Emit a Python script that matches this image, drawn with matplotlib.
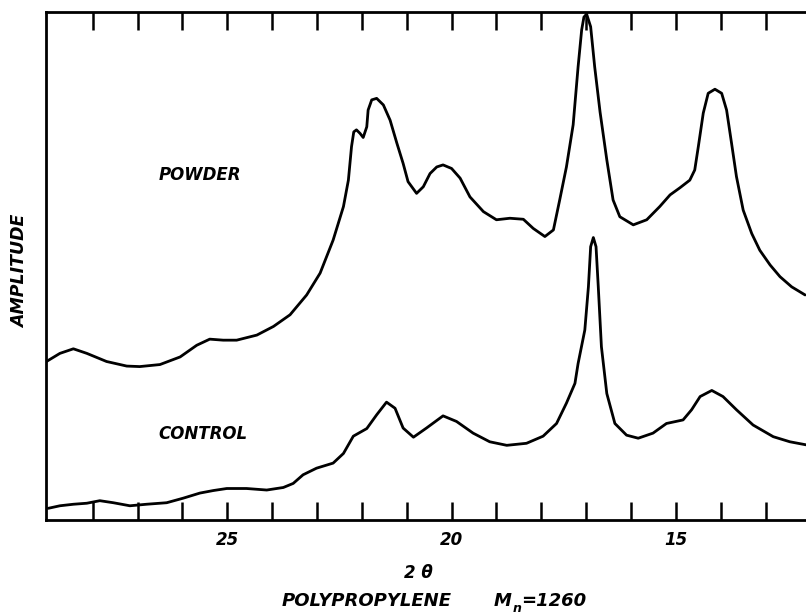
import matplotlib.pyplot as plt

# 2-theta positions (deg) and amplitude (arbitrary units, 0-100)
powder_2theta = [29.03, 28.73, 28.43, 28.13, 27.69, 27.24, 26.95, 26.50, 26.05,
                 25.68, 25.39, 25.09, 24.79, 24.34, 23.97, 23.60, 23.23, 22.93,
                 22.64, 22.41, 22.30, 22.23, 22.18, 22.12, 22.04, 21.97, 21.89,
                 21.86, 21.78, 21.67, 21.52, 21.37, 21.22, 21.08, 20.97, 20.78,
                 20.63, 20.48, 20.33, 20.19, 20.00, 19.81, 19.59, 19.29, 19.00,
                 18.70, 18.40, 18.18, 17.92, 17.73, 17.59, 17.44, 17.29, 17.18,
                 17.10, 17.05, 16.99, 16.90, 16.81, 16.69, 16.54, 16.40, 16.25,
                 15.95, 15.65, 15.36, 15.13, 14.91, 14.69, 14.58, 14.50, 14.39,
                 14.28, 14.13, 13.98, 13.87, 13.76, 13.65, 13.50, 13.31, 13.13,
                 12.90, 12.68, 12.42, 12.12]
powder_amp = [31.2, 32.8, 33.7, 32.8, 31.2, 30.3, 30.2, 30.6, 32.1,
              34.4, 35.6, 35.4, 35.4, 36.4, 38.1, 40.4, 44.3, 48.6,
              55.1, 61.7, 66.9, 73.5, 76.4, 76.8, 76.1, 75.3, 77.4,
              80.7, 82.7, 83.0, 81.7, 78.7, 74.2, 70.2, 66.6, 64.3,
              65.6, 68.2, 69.5, 69.9, 69.2, 67.3, 63.6, 60.7, 59.1,
              59.4, 59.2, 57.4, 55.8, 57.1, 63.0, 69.5, 77.8, 89.2,
              96.5, 99.0, 99.6, 97.1, 89.2, 80.3, 70.9, 63.0, 59.7,
              58.1, 59.1, 61.7, 64.0, 65.4, 66.9, 68.9, 73.5, 80.1,
              84.0, 84.8, 84.0, 80.7, 74.2, 67.6, 61.0, 56.4, 53.1,
              50.2, 47.9, 45.9, 44.3]

control_2theta = [28.99, 28.73, 28.43, 28.13, 27.84, 27.54, 27.17, 26.80, 26.35,
                  25.98, 25.61, 25.31, 25.01, 24.57, 24.12, 23.75, 23.53, 23.31,
                  23.01, 22.64, 22.41, 22.19, 21.89, 21.67, 21.45, 21.26, 21.08,
                  20.85, 20.56, 20.19, 19.89, 19.52, 19.15, 18.77, 18.33, 17.96,
                  17.66, 17.44, 17.25, 17.18, 17.03, 16.95, 16.90, 16.84, 16.78,
                  16.73, 16.66, 16.54, 16.36, 16.10, 15.84, 15.51, 15.21, 14.84,
                  14.65, 14.46, 14.20, 13.95, 13.65, 13.28, 12.83, 12.46, 12.10]
control_amp = [2.3, 2.8, 3.1, 3.3, 3.8, 3.4, 2.8, 3.1, 3.4,
               4.3, 5.3, 5.8, 6.2, 6.2, 5.9, 6.4, 7.2, 8.9,
               10.2, 11.2, 13.1, 16.5, 18.0, 20.7, 23.2, 22.0, 18.1,
               16.3, 18.1, 20.5, 19.4, 17.1, 15.4, 14.7, 15.1, 16.5,
               19.0, 23.0, 26.9, 30.8, 37.4, 45.9, 53.8, 55.6, 53.8,
               45.9, 34.1, 24.9, 19.0, 16.7, 16.1, 17.1, 19.0, 19.7,
               21.7, 24.3, 25.5, 24.3, 21.7, 18.7, 16.4, 15.4, 14.8]

tick_positions = list(range(13, 29))
labelled_ticks = {15: "15", 20: "20", 25: "25"}

fig = plt.figure(figsize=(8.06, 6.16), dpi=100)
ax = fig.add_axes([46 / 806, 96 / 616, 760 / 806, 508 / 616])

ax.plot(powder_2theta, powder_amp, color="black", lw=2.0,
        solid_joinstyle="round", solid_capstyle="round")
ax.plot(control_2theta, control_amp, color="black", lw=2.0,
        solid_joinstyle="round", solid_capstyle="round")

ax.set_xlim(29.04, 12.10)
ax.set_ylim(0, 100)

for side in ["left", "top", "bottom"]:
    ax.spines[side].set_linewidth(2.0)
ax.spines["right"].set_visible(False)

ax.set_yticks([])
ax.set_xticks(tick_positions)
ax.set_xticklabels([labelled_ticks.get(t, "") for t in tick_positions],
                   fontsize=12, fontstyle="italic", fontweight="bold")
ax.tick_params(axis="x", direction="in", length=13, width=1.8,
               top=True, bottom=True, pad=8)

txt = dict(fontstyle="italic", fontweight="bold", color="black")
ax.text(0.148, 0.68, "POWDER", transform=ax.transAxes, fontsize=12,
        ha="left", va="center", **txt)
ax.text(0.148, 0.17, "CONTROL", transform=ax.transAxes, fontsize=12,
        ha="left", va="center", **txt)

fig.text(20 / 806, 1 - 271 / 616, "AMPLITUDE", rotation=90, fontsize=12.5,
         ha="center", va="center", **txt)
fig.text(418 / 806, 1 - 573 / 616, "2 θ", fontsize=12,
         ha="center", va="center", **txt)
fig.text(282 / 806, 1 - 601 / 616, "POLYPROPYLENE", fontsize=13,
         ha="left", va="center", **txt)
# molecular weight label: M with subscript n
fig.text(494 / 806, 1 - 601 / 616, "M", fontsize=13,
         ha="left", va="center", **txt)
fig.text(513 / 806, 1 - 608 / 616, "n", fontsize=9,
         ha="left", va="center", **txt)
fig.text(521 / 806, 1 - 601 / 616, "=1260", fontsize=13,
         ha="left", va="center", **txt)

fig.savefig("out.png", dpi=100)
